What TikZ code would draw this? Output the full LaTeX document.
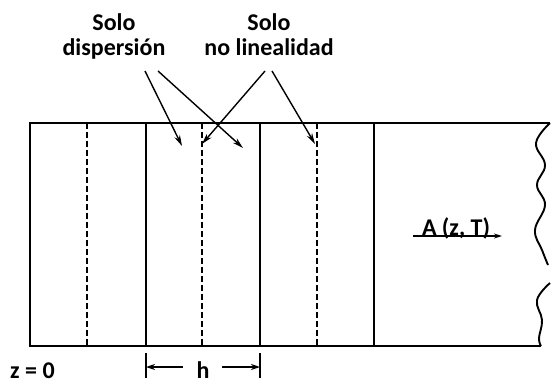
\documentclass[tikz,border=0pt]{standalone}
\usepackage{fontspec}
\setmainfont{Carlito}
\usepackage{tikz}
\usetikzlibrary{arrows.meta,positioning}
\tikzset{
  lbl/.style={font=\bfseries\fontsize{24}{25}\selectfont, inner sep=0pt, align=center},
  wall/.style={line width=1.9pt},
  stepline/.style={line width=1.5pt},
  halfline/.style={line width=1.6pt, dash pattern=on 6pt off 3pt},
  pointer/.style={-{Stealth[length=11pt,width=6pt]}, line width=1.4pt},
  dimarrow/.style={-{Stealth[length=9pt,width=6pt]}, line width=1.5pt},
  wavy/.style={line width=1.9pt, smooth, tension=0.7}
}

\begin{document}
\begin{tikzpicture}[x=1pt,y=-1pt]
\useasboundingbox (0,0) rectangle (551,383);

% fibre segment
\coordinate (tl) at (30,123);
\coordinate (bl) at (30,346);
\coordinate (tr) at (550,123);
\coordinate (br) at (541,346);
\draw[wall] (tr) -- (tl) -- (bl) -- (br);
% broken edge
\draw[wavy] plot coordinates {(550,123) (536,143) (545,165) (537,185)
  (545,205) (535,230) (542,250) (548,265)};
\draw[wavy] plot coordinates {(550,283) (537,300) (542,320) (539,338) (541,346)};

% steps of length h
\foreach \x in {146,260,374}
  \draw[stepline] (\x,123) -- (\x,346);
\foreach \x in {87,202,317}
  \draw[halfline] (\x,123) -- (\x,346);

% labels
\node[lbl, anchor=base] (disp) at (114,55) {Solo\\dispersi\'on};
\node[lbl, anchor=base] (nonlin) at (269,55) {Solo\\no linealidad};

\coordinate (d1) at (145,71);
\coordinate (d2) at (158,71);
\coordinate (n1) at (265,71);
\coordinate (n2) at (272,71);
\coordinate (dt1) at (182,146);
\coordinate (dt2) at (243,148);
\coordinate (nt1) at (202,144);
\coordinate (nt2) at (315,144);
\draw[pointer] (d1) -- (dt1);
\draw[pointer] (d2) -- (dt2);
\draw[pointer] (n1) -- (nt1);
\draw[pointer] (n2) -- (nt2);

% field
\node[lbl, anchor=base] (amp) at (456,235) {A (z, T)};
\coordinate (ampL) at (413,236);
\coordinate (ampR) at (502,236);
\draw[pointer, -{Stealth[length=8pt,width=5pt]}] (ampL) -- (ampR);

% step size
\node[lbl, anchor=base, text depth=0pt] (hlab) at (203,378) {h};
\node[lbl, anchor=base west, text depth=0pt] (zzero) at (10,378) {z = 0};
\draw[stepline] (146,353) -- (146,378);
\draw[stepline] (260,353) -- (260,378);
\coordinate (hl) at (146,367);
\coordinate (hr) at (260,367);
\coordinate (hlw) at (183,367);
\coordinate (hre) at (222,367);
\draw[dimarrow] (hlw) -- (hl);
\draw[dimarrow] (hre) -- (hr);
\end{tikzpicture}
\end{document}
